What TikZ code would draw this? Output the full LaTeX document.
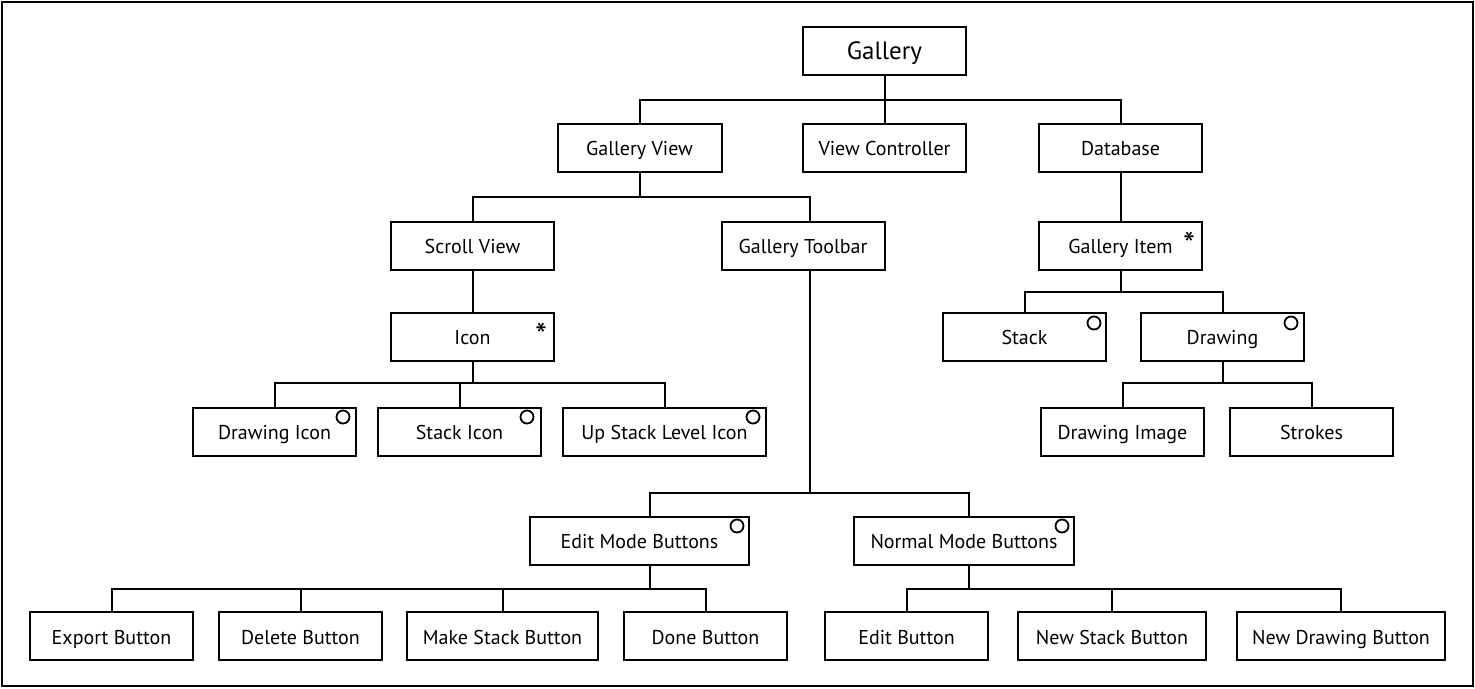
\documentclass[tikz,border=0pt]{standalone}
\usepackage{fontspec}
\setmainfont{PT Sans}
\begin{document}
\begin{tikzpicture}[x=1pt,y=-1pt,
  box/.style={draw, line width=2pt, minimum height=48pt, inner sep=0pt, text height=18pt, text depth=2pt, font=\fontsize{20}{22}\selectfont, fill=white},
  conn/.style={line width=2pt},
  mk/.style={inner sep=0pt, font=\fontsize{34}{34}\selectfont},
  circ/.style={draw, line width=1.8pt, circle, minimum size=13pt, inner sep=0pt}
]
\useasboundingbox (0,0) rectangle (1475,688);
\draw[line width=2pt] (2,2) rectangle (1473,686);

% level 0
\node[box, minimum width=163pt, text height=19pt, text depth=3pt, font=\fontsize{25}{28}\selectfont] (gal) at (884.5,51) {Gallery};
% level 1
\node[box, minimum width=164pt] (gv) at (639.5,147.5) {Gallery View};
\node[box, minimum width=163pt] (vc) at (884.5,147.5) {View Controller};
\node[box, minimum width=163pt] (db) at (1120.5,147.5) {Database};
% level 2
\node[box, minimum width=163pt] (sv) at (472.5,245.5) {Scroll View};
\node[box, minimum width=163pt] (gt) at (803,245.5) {Gallery Toolbar};
\node[box, minimum width=163pt] (gi) at (1120.5,245.5) {Gallery Item};
% level 3
\node[box, minimum width=163pt] (ic) at (472.5,336.5) {Icon};
\node[box, minimum width=163pt] (st) at (1024.5,336.5) {Stack};
\node[box, minimum width=163pt] (dr) at (1222.5,336.5) {Drawing};
% level 4
\node[box, minimum width=163pt] (di) at (274.5,431.5) {Drawing Icon};
\node[box, minimum width=163pt] (si) at (459.5,431.5) {Stack Icon};
\node[box, minimum width=203pt] (ui) at (664.5,431.5) {Up Stack Level Icon};
\node[box, minimum width=163pt] (dimg) at (1122.5,431.5) {Drawing Image};
\node[box, minimum width=163pt] (strk) at (1311.5,431.5) {Strokes};
% level 5
\node[box, minimum width=219pt] (em) at (639.5,540.5) {Edit Mode Buttons};
\node[box, minimum width=220pt] (nm) at (964,540.5) {Normal Mode Buttons};
% level 6
\node[box, minimum width=163pt] (exp) at (111.5,636) {Export Button};
\node[box, minimum width=163pt] (del) at (300.5,636) {Delete Button};
\node[box, minimum width=191pt] (mks) at (502.5,636) {Make Stack Button};
\node[box, minimum width=163pt] (done) at (705.5,636) {Done Button};
\node[box, minimum width=163pt] (edb) at (906.5,636) {Edit Button};
\node[box, minimum width=188pt] (nsb) at (1112,636) {New Stack Button};
\node[box, minimum width=208pt] (ndb) at (1341,636) {New Drawing Button};

% markers
\node[mk] (m1) at (541,335) {*};
\node[mk] (m2) at (1189,244) {*};
\node[circ] (c1) at (343,417) {};
\node[circ] (c2) at (527,417) {};
\node[circ] (c3) at (753,417) {};
\node[circ] (c4) at (1094,323) {};
\node[circ] (c5) at (1291,323) {};
\node[circ] (c6) at (737,526) {};
\node[circ] (c7) at (1062,526) {};

% bus and attachment coordinates
\coordinate (b0) at (884.5,100);
\coordinate (b1) at (639.5,197);
\coordinate (gtin) at (809.5,221.5);
\coordinate (gtout) at (809.5,269.5);
\coordinate (b2) at (809.5,493);
\coordinate (b3) at (472.5,383);
\coordinate (b4) at (1120.5,292);
\coordinate (b5) at (1222.5,383);
\coordinate (emin) at (649.5,516.5);
\coordinate (emout) at (649.5,564.5);
\coordinate (nmin) at (968.5,516.5);
\coordinate (nmout) at (968.5,564.5);
\coordinate (b6) at (649.5,589);
\coordinate (b7) at (968.5,589);

\draw[conn] (gal.south) -- (b0);
\draw[conn] (gv.north) |- (b0);
\draw[conn] (vc.north) -- (b0);
\draw[conn] (db.north) |- (b0);

\draw[conn] (gv.south) -- (b1);
\draw[conn] (sv.north) |- (b1);
\draw[conn] (gtin) |- (b1);

\draw[conn] (sv.south) -- (ic.north);
\draw[conn] (ic.south) -- (b3);
\draw[conn] (di.north) |- (b3);
\draw[conn] (si.north) |- (b3);
\draw[conn] (ui.north) |- (b3);

\draw[conn] (db.south) -- (gi.north);
\draw[conn] (gi.south) -- (b4);
\draw[conn] (st.north) |- (b4);
\draw[conn] (dr.north) |- (b4);
\draw[conn] (dr.south) -- (b5);
\draw[conn] (dimg.north) |- (b5);
\draw[conn] (strk.north) |- (b5);

\draw[conn] (gtout) -- (b2);
\draw[conn] (emin) |- (b2);
\draw[conn] (nmin) |- (b2);

\draw[conn] (emout) -- (b6);
\draw[conn] (exp.north) |- (b6);
\draw[conn] (del.north) |- (b6);
\draw[conn] (mks.north) |- (b6);
\draw[conn] (done.north) |- (b6);

\draw[conn] (nmout) -- (b7);
\draw[conn] (edb.north) |- (b7);
\draw[conn] (nsb.north) |- (b7);
\draw[conn] (ndb.north) |- (b7);
\end{tikzpicture}
\end{document}
